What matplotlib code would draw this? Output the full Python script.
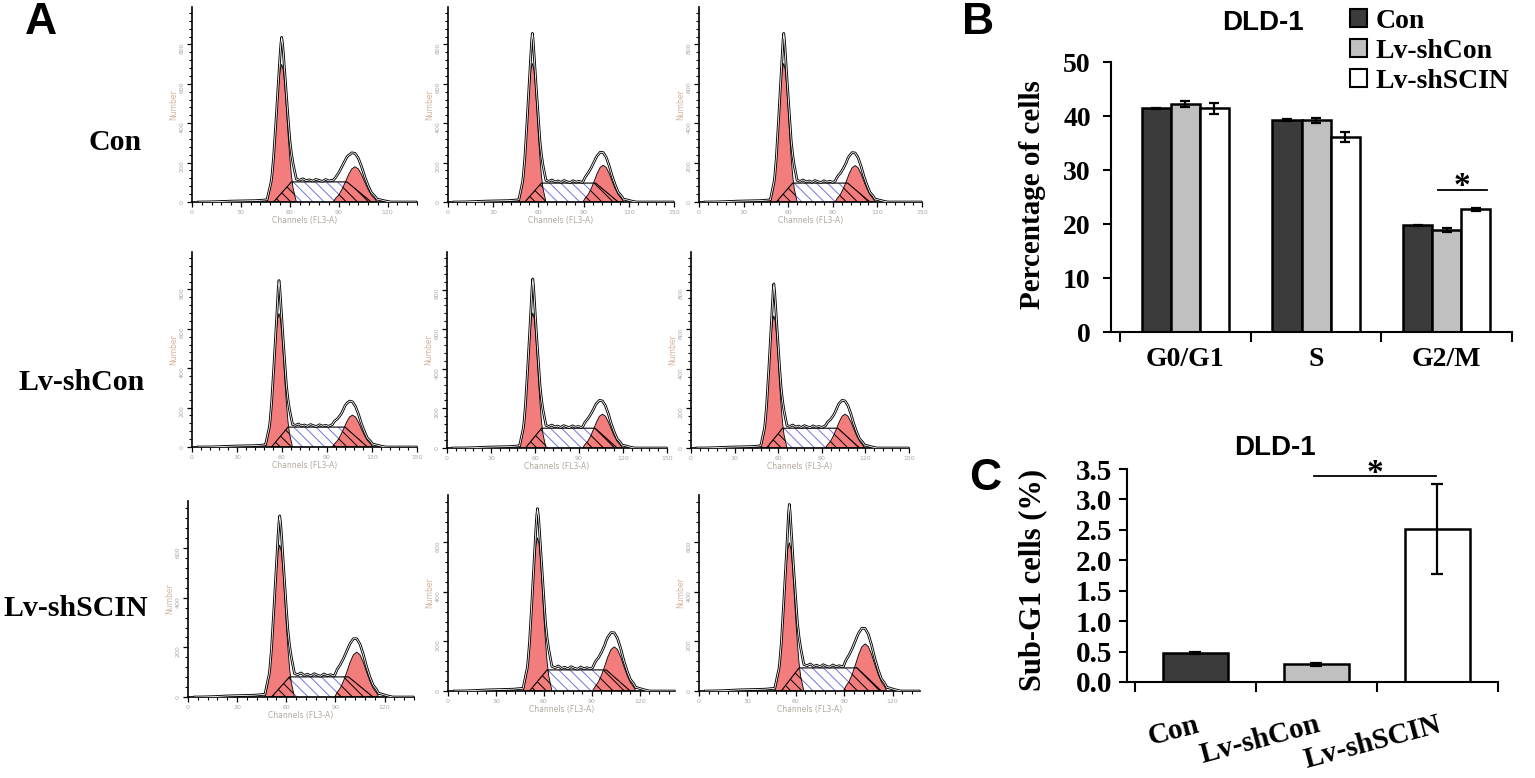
import numpy as np
import matplotlib
matplotlib.use("Agg")
import matplotlib.pyplot as plt
from matplotlib.ticker import MultipleLocator, FixedLocator, FormatStrFormatter
from matplotlib.patches import Patch
from matplotlib.font_manager import FontProperties

# ---------------- data: panel A (flow cytometry histograms) ----------------
row_names = ["Con", "Lv-shCon", "Lv-shSCIN"]
g1_pos = [[55, 56, 57], [58, 58.5, 57], [56, 56, 56]]          # G0/G1 peak channel
g1_height = [[699, 704, 704], [678, 683, 668], [613, 618, 598]]  # fitted G1 peak
peak_counts = [[836, 856, 856], [845, 854, 829], [730, 735, 752]]  # raw data maximum
g2_pos = [[100, 103, 105], [107, 106, 106], [103, 104, 103]]    # G2/M peak channel
g2_height = [[179, 187, 185], [162, 171, 171], [181, 178, 190]]  # fitted G2 peak
s_level = [[102, 96, 96], [101, 100, 100], [81, 85, 93]]        # S-phase plateau

# peak shapes (channel offset, relative height)
g1_prof_off = [-9, -8, -7, -6, -5, -4, -3, -2, -1, 0, 1, 2, 3, 4, 5, 6, 7, 8, 9]
g1_prof = [0, .05, .10, .19, .32, .48, .66, .83, .955, 1, .955, .83, .66, .48, .32, .19, .10, .05, 0]
g2_prof_off = [-13.5, -12, -10, -8, -6, -4, -2, 0, 2, 4, 6, 8, 10, 12, 13.5]
g2_prof = [0, .10, .20, .36, .56, .775, .94, 1, .94, .775, .56, .36, .20, .10, 0]
s_start, s_rise = -5, 6      # S-phase ramp relative to G1 channel
s_fall, s_end = -5, 10       # S-phase ramp relative to G2 channel
spike_off = [-2, -1, -0.5, 0, 0.5, 1, 2]
spike_rel = [0, .45, .85, 1, .8, .4, 0]
rag_off = [5, 7, 9, 11, 13, 15, 17, 19, 21, 23, 25, 27, 29, 31, 33, 35, 37, 39, 42]
rag_add = [0, 22, 14, 9, 16, 6, 11, 4, 13, 7, 3, 12, 5, 9, 4, 11, 14, 10, 0]
debris_off = [-50, -42, -34, -24, -16, -10, -7]
debris_val = [0, 1, 4, 6, 7, 10, 14]
tail_off = [6, 10, 14, 18, 22]
tail_add = [0, 12, 14, 6, 0]

# ---------------- data: panel B ----------------
phases = ["G0/G1", "S", "G2/M"]
groups = ["Con", "Lv-shCon", "Lv-shSCIN"]
pct_con = [41.4, 39.2, 19.8]
err_con = [0.15, 0.2, 0.1]
pct_shcon = [42.2, 39.2, 18.9]
err_shcon = [0.5, 0.5, 0.3]
pct_shscin = [41.4, 36.1, 22.7]
err_shscin = [1.0, 0.85, 0.2]
sigB_x = [1.93, 2.31]
sigB_y = 26.3

# ---------------- data: panel C ----------------
subg1 = [0.48, 0.29, 2.52]
subg1_err = [0.02, 0.03, 0.74]
sigC_x = [0.98, 1.99]
sigC_y = 3.39

# ---------------- figure ----------------
W, H = 1535, 778
fig = plt.figure(figsize=(W / 100, H / 100), dpi=100)
plt.rcParams["hatch.linewidth"] = 0.7
SERIF = ["Liberation Serif", "DejaVu Serif"]
SANS = ["Liberation Sans", "DejaVu Sans"]
RED = "#f37d7d"
BLUE = "#7474e0"
DARK = "#3b3b3b"
LIGHT = "#c0c0c0"


def px(x, y):
    return x / W, 1 - y / H


def add_ax(x0, x1, yb, yt):
    return fig.add_axes([x0 / W, 1 - yb / H, (x1 - x0) / W, (yb - yt) / H])


# histogram axes geometry (left px, right px, bottom px, top px, xmax, ymax)
geom = [
    [(192, 417, 202, 7, 138, 990), (448, 674, 202, 7, 150, 990), (699, 922, 202, 7, 150, 990)],
    [(192, 417, 447, 252, 150, 990), (447, 667, 448, 252, 150, 990), (691, 909, 448, 252, 150, 990)],
    [(188, 414, 697, 501, 138, 790), (448, 675, 691, 495, 142, 790), (699, 920, 691, 495, 137, 790)],
]


def draw_hist(ax, r, c, xmax, ymax):
    g1 = g1_pos[r][c]; h1 = g1_height[r][c]; pk = peak_counts[r][c]
    g2 = g2_pos[r][c]; h2 = g2_height[r][c]; s = s_level[r][c]
    x1 = g1 + np.array(g1_prof_off, float); y1 = h1 * np.array(g1_prof)
    x2 = g2 + np.array(g2_prof_off, float); y2 = h2 * np.array(g2_prof)
    xs = np.array([g1 + s_start, g1 + s_rise, g2 + s_fall, g2 + s_end], float)
    ys = np.array([0, s, s, 0], float)

    ax.fill(xs, ys, facecolor="white", edgecolor=BLUE, hatch="\\\\\\", lw=0, zorder=1)
    red1 = ax.fill(x1, y1, facecolor=RED, edgecolor="black", lw=0.6, zorder=2)[0]
    red2 = ax.fill(x2, y2, facecolor=RED, edgecolor="black", lw=0.6, zorder=2)[0]
    for rp in (red1, red2):
        hp = ax.fill(xs, ys, facecolor="none", edgecolor="black", hatch="\\\\\\", lw=0, zorder=3)[0]
        hp.set_clip_path(rp)
    ax.plot(xs, ys, color="black", lw=0.8, zorder=4)

    grid = np.arange(4, xmax, 0.5)
    env = (np.interp(grid, x1, y1, left=0, right=0)
           + np.interp(grid, x2, y2, left=0, right=0)
           + np.interp(grid, xs, ys, left=0, right=0)
           + np.interp(grid, g1 + np.array(debris_off, float), debris_val, left=0, right=0)
           + np.interp(grid, g1 + np.array(rag_off, float), rag_add, left=0, right=0)
           + np.interp(grid, g2 + np.array(tail_off, float), tail_add, left=0, right=0))
    base_top = h1 + np.interp(g1, xs, ys)
    env += (pk - base_top) * np.interp(grid, g1 + np.array(spike_off), spike_rel, left=0, right=0)
    ax.plot(grid, env, color="black", lw=1.9, zorder=5, solid_joinstyle="round")
    ax.plot(grid, env, color="white", lw=0.6, zorder=6)

    ax.set_xlim(0, xmax)
    ax.set_ylim(0, ymax)
    for sp in ("top", "right"):
        ax.spines[sp].set_visible(False)
    for sp in ("left", "bottom"):
        ax.spines[sp].set_linewidth(1.2)
    ax.xaxis.set_major_locator(MultipleLocator(30))
    ax.xaxis.set_minor_locator(MultipleLocator(6))
    ax.yaxis.set_major_locator(MultipleLocator(200))
    ax.yaxis.set_minor_locator(MultipleLocator(40))
    ax.tick_params(which="major", length=3.5, width=0.9, labelsize=4.5,
                   labelcolor="#a8a8a8", pad=2)
    ax.tick_params(which="minor", length=2, width=0.8)
    ax.tick_params(axis="y", labelrotation=90)
    ax.set_xlabel("Channels (FL3-A)", fontsize=5.5, color="#b0a89e", labelpad=1)
    ax.set_ylabel("Number", fontsize=5.5, color="#d6b49c", labelpad=1)


for r in range(3):
    for c in range(3):
        x0, x1, yb, yt, xmax, ymax = geom[r][c]
        ax = add_ax(x0, x1, yb, yt)
        draw_hist(ax, r, c, xmax, ymax)

row_label_pos = [(142, 143), (145, 383), (148, 608)]
for name, (xr, yc) in zip(row_names, row_label_pos):
    fig.text(*px(xr, yc), name, ha="right", va="center", fontsize=21.5,
             fontweight="bold", family=SERIF)

# ---------------- panel B ----------------
axB = add_ax(1111, 1512, 332, 62)
xcat = np.arange(len(phases))
bw = 0.222
seriesB = [(pct_con, err_con, DARK), (pct_shcon, err_shcon, LIGHT), (pct_shscin, err_shscin, "white")]
for i, (vals, errs, col) in enumerate(seriesB):
    axB.bar(xcat + (i - 1) * bw, vals, bw, yerr=errs, color=col, edgecolor="black",
            linewidth=1.8, label=groups[i], zorder=2,
            error_kw=dict(ecolor="black", elinewidth=1.6, capsize=3.5, capthick=1.6, zorder=3))
axB.set_xlim(-0.569, 2.5)
axB.set_ylim(0, 50)
axB.plot(sigB_x, [sigB_y, sigB_y], color="black", lw=1.3)
axB.text(np.mean(sigB_x), sigB_y - 1.0, "*", ha="center", va="baseline", fontsize=24,
         fontweight="bold", family=SERIF)

bold_serif20 = FontProperties(family=SERIF, weight="bold", size=20)
bold_serif21 = FontProperties(family=SERIF, weight="bold", size=21)


def style_bar_axes(ax, cats, ylocs, yfmt, tickfont, rot=0, pad=12, ypad=4):
    for sp in ("top", "right"):
        ax.spines[sp].set_visible(False)
    for sp in ("left", "bottom"):
        ax.spines[sp].set_linewidth(1.5)
    ax.xaxis.set_major_locator(FixedLocator([-0.5, 0.5, 1.5, 2.5]))
    ax.xaxis.set_minor_locator(FixedLocator(list(range(len(cats)))))
    ax.set_xticklabels([])
    if rot:
        ax.set_xticklabels(cats, minor=True, rotation=rot, ha="right", rotation_mode="anchor")
    else:
        ax.set_xticklabels(cats, minor=True)
    ax.tick_params(axis="x", which="major", length=7, width=1.5, direction="out")
    ax.tick_params(axis="x", which="minor", length=0, pad=pad)
    ax.yaxis.set_major_locator(FixedLocator(ylocs))
    ax.yaxis.set_major_formatter(FormatStrFormatter(yfmt))
    ax.tick_params(axis="y", length=5.5, width=1.5, pad=ypad)
    for lab in ax.get_xticklabels(minor=True) + ax.get_yticklabels():
        lab.set_fontproperties(tickfont)


style_bar_axes(axB, phases, list(range(0, 51, 10)), "%d", bold_serif20, pad=11, ypad=9)

handles = [Patch(facecolor=col, edgecolor="black", linewidth=1.5) for _, _, col in seriesB]
axB.legend(handles, groups, loc="upper left", bbox_to_anchor=px(1350, 9),
           bbox_transform=fig.transFigure, frameon=False, prop=bold_serif20,
           handlelength=0.62, handleheight=0.62, handletextpad=0.3,
           labelspacing=0.18, borderpad=0, borderaxespad=0)

fig.text(*px(1263, 23), "DLD-1", ha="center", va="center", fontsize=20,
         fontweight="bold", family=SANS)
fig.text(*px(1032, 195), "Percentage of cells", rotation=90, ha="center", va="center",
         fontsize=21, fontweight="bold", family=SERIF)

# ---------------- panel C ----------------
axC = add_ax(1127, 1498, 682, 469)
xc = np.arange(len(groups))
axC.bar(xc, subg1, 0.54, yerr=subg1_err, color=[DARK, LIGHT, "white"], edgecolor="black",
        linewidth=1.8, zorder=2,
        error_kw=dict(ecolor="black", elinewidth=1.6, capsize=4.5, capthick=1.6, zorder=3))
axC.set_xlim(-0.566, 2.5)
axC.set_ylim(0, 3.5)
axC.plot(sigC_x, [sigC_y, sigC_y], color="black", lw=1.3, clip_on=False)
axC.text(np.mean(sigC_x), sigC_y - 0.1, "*", ha="center", va="baseline", fontsize=24,
         fontweight="bold", family=SERIF, clip_on=False)
style_bar_axes(axC, groups, list(np.arange(0, 3.51, 0.5)), "%.1f", bold_serif21,
               rot=15, pad=21, ypad=5)

fig.text(*px(1275, 448), "DLD-1", ha="center", va="center", fontsize=20,
         fontweight="bold", family=SANS)
fig.text(*px(1033, 580), "Sub-G1 cells (%)", rotation=90, ha="center", va="center",
         fontsize=22, fontweight="bold", family=SERIF)

# ---------------- panel letters ----------------
for letter, (x, y) in zip("ABC", [(41, 22), (978, 22), (985, 478)]):
    fig.text(*px(x, y), letter, ha="center", va="center", fontsize=32,
             fontweight="bold", family=SANS)

fig.savefig("out.png", dpi=100)
